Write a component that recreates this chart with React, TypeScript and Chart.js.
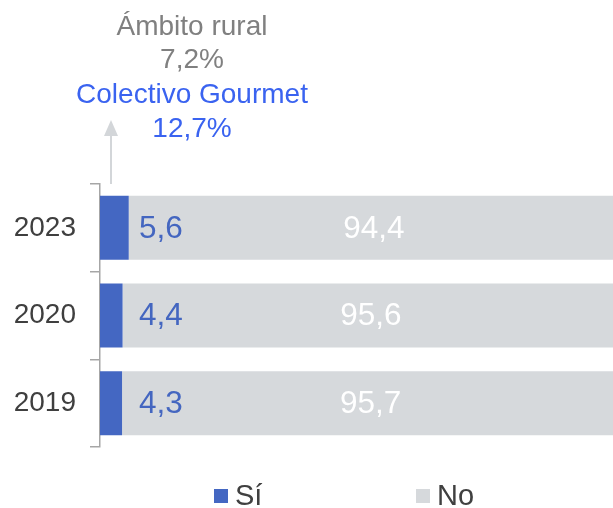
import React, { useEffect, useRef } from "react";
import { Chart, registerables } from "chart.js";

Chart.register(...registerables);

const categories = ["2023", "2020", "2019"];
const siValues = [5.6, 4.4, 4.3];
const noValues = [94.4, 95.6, 95.7];
const seriesNames = ["Sí", "No"];
const noteLines = ["Ámbito rural", "7,2%", "Colectivo Gourmet", "12,7%"];

const BLUE = "#4467c2";
const GREY = "#d6d9dc";
const FONT = "'Liberation Sans', Arial, sans-serif";

const fmt = (v: number) => v.toFixed(1).replace(".", ",");

const overlay = {
  id: "overlay",
  afterDatasetsDraw(chart: any) {
    const ctx = chart.ctx;
    const area = chart.chartArea;
    const xs = chart.scales.x;
    ctx.save();
    // data labels
    chart.data.datasets.forEach((ds: any, di: number) => {
      const meta = chart.getDatasetMeta(di);
      meta.data.forEach((el: any, i: number) => {
        const { x, y, base } = el.getProps(["x", "y", "base"], true);
        const v = ds.data[i];
        ctx.font = `31.5px ${FONT}`;
        ctx.textBaseline = "middle";
        if (di === 0) {
          ctx.fillStyle = "#4466c0";
          ctx.textAlign = "left";
          ctx.fillText(fmt(v), xs.getPixelForValue(7.6), y + 1);
        } else {
          ctx.fillStyle = "#ffffff";
          ctx.textAlign = "center";
          ctx.fillText(fmt(v), (x + base) / 2 + 3, y + 1);
        }
      });
    });
    // arrow
    const ax = area.left + 11;
    ctx.strokeStyle = "#d3d6d9";
    ctx.fillStyle = "#d3d6d9";
    ctx.lineWidth = 2;
    ctx.beginPath();
    ctx.moveTo(ax, area.top);
    ctx.lineTo(ax, 134);
    ctx.stroke();
    ctx.beginPath();
    ctx.moveTo(ax, 120);
    ctx.lineTo(ax - 7, 136);
    ctx.lineTo(ax + 7, 136);
    ctx.closePath();
    ctx.fill();
    // annotation text
    const cx = 192;
    const baselines = [35, 68, 103, 137];
    const colors = ["#808080", "#808080", "#3a63f0", "#3a63f0"];
    ctx.font = `28px ${FONT}`;
    ctx.textAlign = "center";
    ctx.textBaseline = "alphabetic";
    noteLines.forEach((t, i) => {
      ctx.fillStyle = colors[i];
      ctx.fillText(t, cx, baselines[i]);
    });
    // legend
    const legendX = [214, 416];
    const ly = 496;
    chart.data.datasets.forEach((ds: any, di: number) => {
      ctx.fillStyle = ds.backgroundColor;
      ctx.fillRect(legendX[di], ly - 7, 14, 14);
      ctx.fillStyle = "#404040";
      ctx.font = `29px ${FONT}`;
      ctx.textAlign = "left";
      ctx.textBaseline = "middle";
      ctx.fillText(ds.label, legendX[di] + 21, ly + 1);
    });
    ctx.restore();
  },
};

export default function App() {
  const ref = useRef<HTMLCanvasElement>(null);
  useEffect(() => {
    if (!ref.current) return;
    const chart = new Chart(ref.current, {
      type: "bar",
      data: {
        labels: categories,
        datasets: [
          {
            label: seriesNames[0],
            data: siValues,
            backgroundColor: BLUE,
            barPercentage: 1,
            categoryPercentage: 0.73,
          },
          {
            label: seriesNames[1],
            data: noValues,
            backgroundColor: GREY,
            barPercentage: 1,
            categoryPercentage: 0.73,
          },
        ],
      },
      options: {
        indexAxis: "y",
        animation: false,
        responsive: false,
        devicePixelRatio: 1,
        layout: { padding: { top: 184, bottom: 61, left: 0, right: 0 } },
        plugins: {
          legend: { display: false },
          tooltip: { enabled: false },
        },
        scales: {
          x: {
            stacked: true,
            min: 0,
            max: 100,
            display: false,
          },
          y: {
            stacked: true,
            afterFit: (scale: any) => {
              scale.width = 100;
            },
            grid: {
              offset: true,
              drawOnChartArea: false,
              drawTicks: true,
              tickLength: 10,
              color: "#a6a6a6",
              lineWidth: 1.5,
            },
            border: { display: true, color: "#a6a6a6", width: 1.5 },
            ticks: {
              padding: 14,
              color: "#3f3f3f",
              font: { size: 28, family: FONT },
            },
          },
        },
      },
      plugins: [overlay],
    });
    return () => chart.destroy();
  }, []);
  return (
    <div style={{ position: "absolute", left: 0, top: 0, width: 613, height: 508, background: "#fff" }}>
      <canvas ref={ref} width={613} height={508} style={{ width: 613, height: 508, display: "block" }} />
    </div>
  );
}
